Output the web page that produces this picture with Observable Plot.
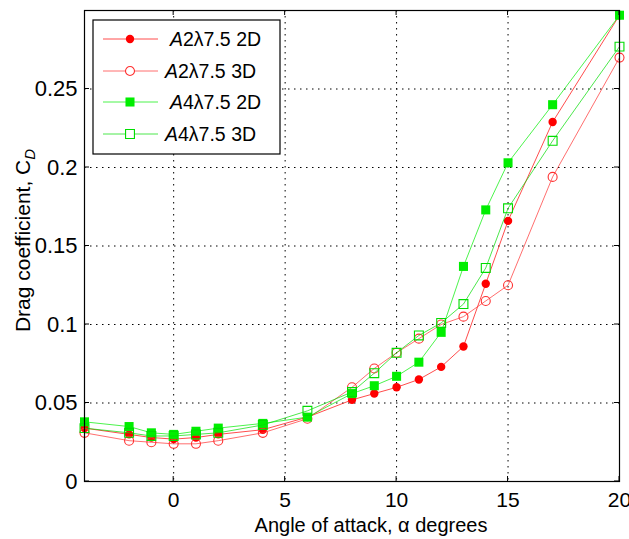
<!DOCTYPE html>
<html><head><meta charset="utf-8">
<script src="https://cdn.jsdelivr.net/npm/d3@7"></script>
<script src="https://cdn.jsdelivr.net/npm/@observablehq/plot@0.6"></script>
<style>body{margin:0;background:#fff} svg{font-family:"Liberation Sans",Arial,sans-serif}</style>
</head><body><div id="chart"></div>
<script>
const angles = [-4, -2, -1, 0, 1, 2, 4, 6, 8, 9, 10, 11, 12, 13, 14, 15, 17, 20];
const a2_2d = [0.034, 0.030, 0.028, 0.027, 0.028, 0.030, 0.033, 0.041, 0.052, 0.056, 0.060, 0.065, 0.073, 0.086, 0.126, 0.166, 0.229, 0.297];
const a2_3d = [0.031, 0.026, 0.025, 0.024, 0.024, 0.026, 0.031, 0.040, 0.060, 0.072, 0.082, 0.091, 0.100, 0.105, 0.115, 0.125, 0.194, 0.270];
const a4_2d = [0.038, 0.035, 0.031, 0.030, 0.032, 0.034, 0.037, 0.041, 0.056, 0.061, 0.067, 0.076, 0.095, 0.137, 0.173, 0.203, 0.240, 0.297];
const a4_3d = [0.034, 0.031, 0.029, 0.029, 0.030, 0.031, 0.036, 0.045, 0.057, 0.069, 0.082, 0.093, 0.101, 0.113, 0.136, 0.174, 0.217, 0.277];
const seriesNames = ["A2λ7.5 2D", "A2λ7.5 3D", "A4λ7.5 2D", "A4λ7.5 3D"];
const seriesValues = [a2_2d, a2_3d, a4_2d, a4_3d];
const xTicks = [0, 5, 10, 15, 20];
const yTicks = [0, 0.05, 0.1, 0.15, 0.2, 0.25];
const xLabel = "Angle of attack, α degrees";
const yLabel = "Drag coefficient, C";
const yLabelSub = "D";

const styles = [
  {color: "#ff0000", symbol: "circle", filled: true, r: 4.2},
  {color: "#ff3030", symbol: "circle", filled: false, r: 4.5},
  {color: "#00ee00", symbol: "square", filled: true, r: 5.1},
  {color: "#00dd00", symbol: "square", filled: false, r: 5},
];

const rows = seriesValues.map((vals, s) => angles.map((a, i) => ({angle: a, cd: vals[i], s})));

const marks = [
  Plot.gridX(xTicks.filter(d => d < 20), {stroke: "black", strokeOpacity: 1, strokeDasharray: "1.5,4.5"}),
  Plot.gridY(yTicks.filter(d => d > 0), {stroke: "black", strokeOpacity: 1, strokeDasharray: "1.5,4.5"}),
  Plot.axisX(xTicks, {tickSize: 0, tickPadding: 11, fontSize: 21, tickFormat: d => String(d)}),
  Plot.axisY(yTicks, {tickSize: 0, tickPadding: 7, fontSize: 22, tickFormat: d => String(d)}),
];
rows.forEach((data, s) => {
  const st = styles[s];
  marks.push(Plot.line(data, {x: "angle", y: "cd", stroke: st.color, strokeWidth: 1, strokeOpacity: 0.7}));
  marks.push(Plot.dot(data, {x: "angle", y: "cd", symbol: st.symbol, r: st.r,
    fill: st.filled ? st.color : "none", stroke: st.color, strokeWidth: st.filled ? 0 : 1.1}));
});
marks.push(Plot.frame({stroke: "black", strokeWidth: 1.2}));

const plot = Plot.plot({
  width: 629, height: 539,
  marginLeft: 84, marginRight: 10, marginTop: 10, marginBottom: 58,
  x: {domain: [-4, 20], label: null},
  y: {domain: [0, 0.3], label: null},
  style: {fontFamily: "Liberation Sans, Arial, sans-serif", color: "black", background: "white"},
  marks
});
document.getElementById("chart").appendChild(plot);

const svg = d3.select(plot);
const xs = plot.scale("x"), ys = plot.scale("y");
const L = xs.apply(-4), R = xs.apply(20), B = ys.apply(0), T = ys.apply(0.3);
const tk = svg.append("g").attr("stroke", "black").attr("stroke-width", 1);
xTicks.forEach(v => {
  const x = xs.apply(v);
  tk.append("line").attr("x1", x).attr("x2", x).attr("y1", B).attr("y2", B - 5);
  tk.append("line").attr("x1", x).attr("x2", x).attr("y1", T).attr("y2", T + 5);
});
yTicks.forEach(v => {
  const y = ys.apply(v);
  tk.append("line").attr("x1", L).attr("x2", L + 5).attr("y1", y).attr("y2", y);
  tk.append("line").attr("x1", R).attr("x2", R - 5).attr("y1", y).attr("y2", y);
});

svg.append("text").attr("x", 371).attr("y", 532).attr("text-anchor", "middle")
  .attr("font-size", 20).attr("fill", "black").text(xLabel);
const yl = svg.append("text").attr("transform", `translate(30,${(T + B) / 2 - 5}) rotate(-90)`)
  .attr("text-anchor", "middle").attr("font-size", 21).attr("fill", "black");
yl.append("tspan").text(yLabel);
yl.append("tspan").attr("font-size", 15).attr("dy", 5).attr("font-style", "italic").text(yLabelSub);

// legend
const lg = svg.append("g");
lg.append("rect").attr("x", 93).attr("y", 20).attr("width", 187).attr("height", 134)
  .attr("fill", "white").attr("stroke", "black").attr("stroke-width", 1.2);
const rowY = [39, 71, 102, 134];
const textX = [170, 165, 170, 165];
seriesNames.forEach((name, s) => {
  const st = styles[s], y = rowY[s];
  lg.append("line").attr("x1", 103).attr("x2", 158).attr("y1", y).attr("y2", y)
    .attr("stroke", st.color).attr("stroke-width", 1).attr("stroke-opacity", 0.7);
  const sym = d3.symbol(st.symbol === "circle" ? d3.symbolCircle : d3.symbolSquare, Math.PI * st.r * st.r);
  lg.append("path").attr("d", sym()).attr("transform", `translate(130,${y})`)
    .attr("fill", st.filled ? st.color : "white").attr("stroke", st.color).attr("stroke-width", st.filled ? 0 : 1.1);
  const t = lg.append("text").attr("x", textX[s]).attr("y", y + 7).attr("font-size", 19.5)
    .attr("text-anchor", "start").attr("fill", "black");
  t.append("tspan").attr("font-style", "italic").text(name.slice(0, 1));
  t.append("tspan").text(name.slice(1));
});
</script></body></html>
